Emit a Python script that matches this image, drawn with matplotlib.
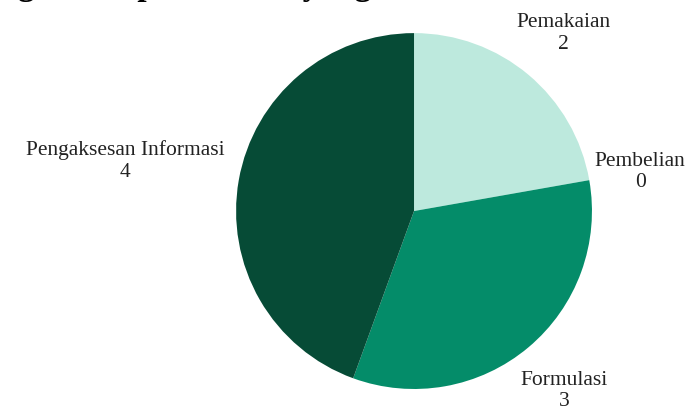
import numpy as np
import matplotlib
matplotlib.use("Agg")
import matplotlib.pyplot as plt

# data
categories = ["Pemakaian", "Pembelian", "Formulasi", "Pengaksesan Informasi"]
counts = [2, 0, 3, 4]
colors = ["#bde9dd", "#2bb08c", "#048c69", "#064b36"]
label_dist = [1.31, 1.29, 1.31, 1.65]

# line of body text above the chart, cut by the top edge (only descenders show)
title_text = "gambar pie berikut yang telah dikelola"

fig = plt.figure(figsize=(6.97, 4.10), dpi=100)
fig.patch.set_facecolor("white")

fig.text(0.026, 1.011, title_text, fontsize=24, fontweight="bold",
         family="Liberation Serif", ha="left", va="baseline", color="black")

ax = fig.add_axes([0.3386, 0.0488, 0.5108, 0.868])
wedges, _ = ax.pie(counts, colors=colors, startangle=90, counterclock=False,
                   radius=1.0, wedgeprops=dict(linewidth=0))
ax.set_xlim(-1, 1)
ax.set_ylim(-1, 1)
ax.set_aspect("equal")
ax.axis("off")

for w, name, n, d in zip(wedges, categories, counts, label_dist):
    ang = np.deg2rad((w.theta1 + w.theta2) / 2)
    x, y = d * np.cos(ang), d * np.sin(ang)
    ax.text(x, y, f"{name}\n{n}", ha="center", va="center", fontsize=15.5,
            family="Liberation Serif", color="#222222", linespacing=1.15,
            clip_on=False)

fig.savefig("out.png", dpi=100)
